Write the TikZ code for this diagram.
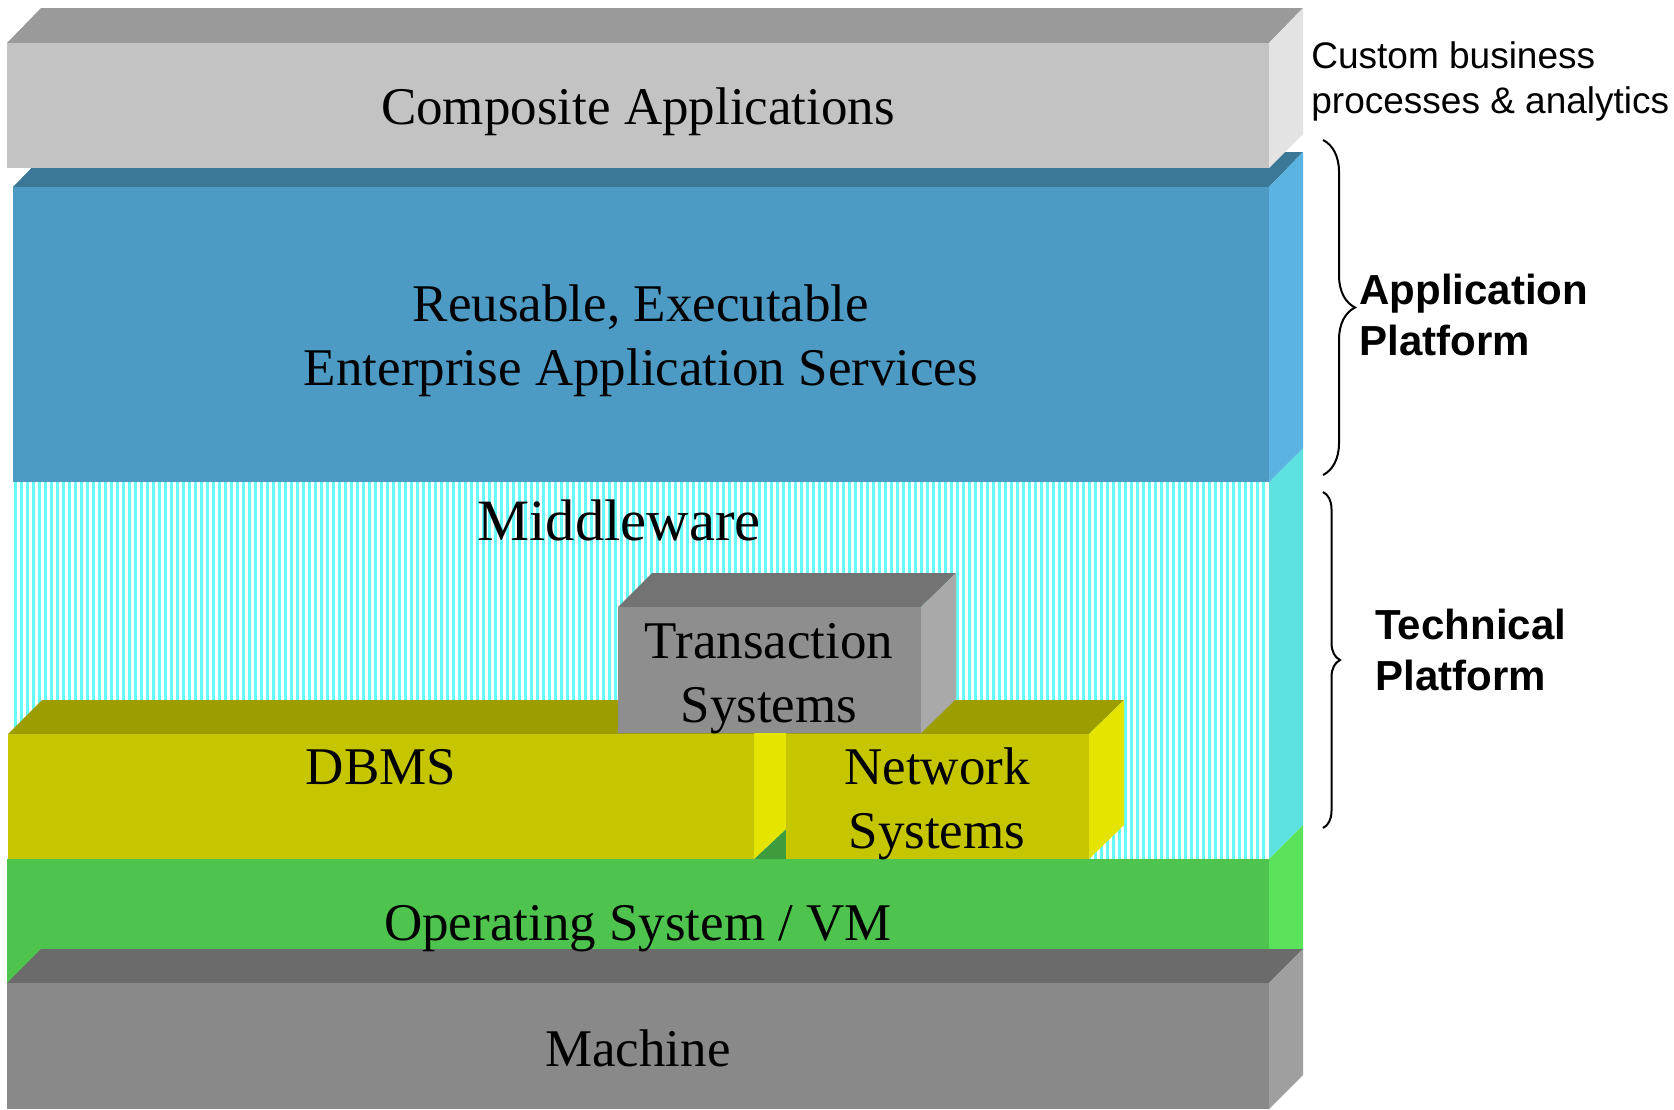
\documentclass[tikz,border=0pt]{standalone}
\usepackage{fontspec}
\setmainfont{Liberation Serif}
\setsansfont{Liberation Sans}
\usetikzlibrary{decorations.pathreplacing}

% layer colours: front, top, right side
\definecolor{compfront}{HTML}{C3C3C3}
\definecolor{comptop}{HTML}{9A9A9A}
\definecolor{compside}{HTML}{E3E3E3}
\definecolor{servfront}{HTML}{4D9BC5}
\definecolor{servtop}{HTML}{3B7898}
\definecolor{servside}{HTML}{5AB3E0}
\definecolor{midstripe}{HTML}{66FAFA}
\definecolor{midside}{HTML}{5CE0E0}
\definecolor{osfront}{HTML}{4EC34E}
\definecolor{ostop}{HTML}{3E9C3E}
\definecolor{osside}{HTML}{5BE25B}
\definecolor{dbfront}{HTML}{C6C600}
\definecolor{dbtop}{HTML}{9E9D00}
\definecolor{dbside}{HTML}{E4E400}
\definecolor{txfront}{HTML}{8E8E8E}
\definecolor{txtop}{HTML}{737373}
\definecolor{txside}{HTML}{A9A9A9}
\definecolor{machfront}{HTML}{898989}
\definecolor{machtop}{HTML}{6B6B6B}
\definecolor{machside}{HTML}{9F9F9F}

\tikzset{
  layertext/.style={font=\fontsize{26.5}{32}\selectfont, align=center, anchor=base, inner sep=0pt},
  sidetext/.style={font=\sffamily\fontsize{18.5}{22.5}\selectfont, align=left, anchor=base west, inner sep=0pt},
  sidebold/.style={font=\sffamily\bfseries\fontsize{21}{25.5}\selectfont, align=left, anchor=base west, inner sep=0pt},
  stripe/.style={draw=midstripe, line width=1.5pt},
  platbrace/.style={decorate, line width=1pt, decoration={brace, amplitude=#1}},
}

\begin{document}
\begin{tikzpicture}[x=0.5pt, y=-0.5pt]
  \useasboundingbox (0,0) rectangle (1674,1109);

  % Middleware (striped)
  \foreach \x in {15,21,...,1266}
    \draw [stripe] (\x,482) -- (\x,859);
  \fill [midside] (1269,482) -- (1303,448) -- (1303,825) -- (1269,859) -- cycle;

  % Application services
  \fill [servtop] (13,187) -- (47,152) -- (1303,152) -- (1269,187) -- cycle;
  \fill [servfront] (13,187) rectangle (1269,482);
  \fill [servside] (1269,187) -- (1303,152) -- (1303,448) -- (1269,482) -- cycle;

  % Composite applications
  \fill [comptop] (7,43) -- (41,8) -- (1303,8) -- (1269,43) -- cycle;
  \fill [compfront] (7,43) rectangle (1269,168);
  \fill [compside] (1269,43) -- (1303,8) -- (1303,134) -- (1269,168) -- cycle;

  % Operating system
  \fill [osfront] (7,859) rectangle (1269,983);
  \fill [osside] (1269,859) -- (1303,825) -- (1303,950) -- (1269,950) -- cycle;
  \fill [ostop] (754,859) -- (786,829) -- (786,859) -- cycle;

  % DBMS and network systems
  \fill [dbtop] (8,734) -- (42,700) -- (1124,700) -- (1089,734) -- cycle;
  \fill [dbfront] (8,734) rectangle (754,859);
  \fill [dbside] (754,734) -- (786,700) -- (786,829) -- (754,859) -- cycle;
  \fill [dbfront] (786,734) rectangle (1089,859);
  \fill [dbside] (1089,734) -- (1124,700) -- (1124,825) -- (1089,859) -- cycle;

  % Transaction systems
  \fill [txtop] (618,607) -- (652,573) -- (956,573) -- (921,607) -- cycle;
  \fill [txfront] (618,607) rectangle (921,733);
  \fill [txside] (921,607) -- (956,573) -- (956,699) -- (921,733) -- cycle;

  % Machine
  \fill [machtop] (7,983) -- (41,949) -- (1303,949) -- (1269,983) -- cycle;
  \fill [machfront] (7,983) rectangle (1269,1109);
  \fill [machside] (1269,983) -- (1303,949) -- (1303,1075) -- (1269,1109) -- cycle;

  % Layer labels (base = last line)
  \node [layertext] (composite) at (638,124) {Composite Applications};
  \node [layertext] (services) at (641,385) {Reusable, Executable\\Enterprise Application Services};
  \node [layertext, font=\fontsize{29.3}{35}\selectfont] (middleware) at (619,540) {Middleware};
  \node [layertext] (transaction) at (769,722) {Transaction\\Systems};
  \node [layertext] (dbms) at (381,784) {DBMS};
  \node [layertext] (network) at (937,848) {Network\\Systems};
  \node [layertext] (os) at (638,940) {Operating System / VM};
  \node [layertext] (machine) at (638,1066) {Machine};

  % Side notes
  \node [sidetext] (custom) at (1311,113) {Custom business\\processes \& analytics};
  \node [sidebold] (appplat) at (1359,355) {Application\\Platform};
  \node [sidebold] (techplat) at (1375,690) {Technical\\Platform};

  % Braces
  \draw [platbrace=16pt] (1323,140) -- (1323,475);
  \draw [platbrace=8.5pt] (1323,492) -- (1323,828);
\end{tikzpicture}
\end{document}
